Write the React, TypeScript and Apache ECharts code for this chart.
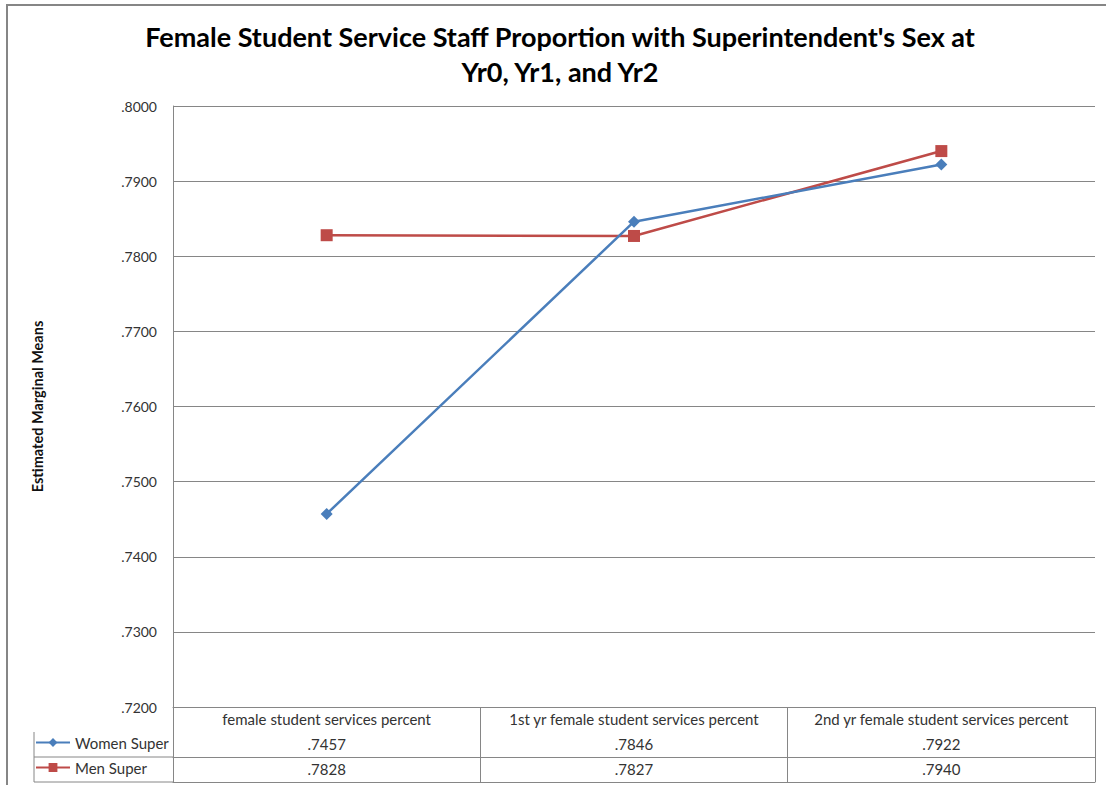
import React, { useEffect, useRef } from "react";
import * as echarts from "echarts";

const categories = [
  "female student services percent",
  "1st yr female student services percent",
  "2nd yr female student services percent",
];
const seriesNames = ["Women Super", "Men Super"];
const womenValues = [0.7457, 0.7846, 0.7922];
const menValues = [0.7828, 0.7827, 0.794];
const yMin = 0.72;
const yMax = 0.8;
const yInterval = 0.01;

const titleText =
  "Female Student Service Staff Proportion with Superintendent's Sex at\nYr0, Yr1, and Yr2";
const yAxisTitle = "Estimated Marginal Means";

const fmt = (v: number) => v.toFixed(4).replace(/^0/, "");

const FONT = "Lato, 'Open Sans', sans-serif";
const GRID = "#868686";
const BLUE = "#4A7EBB";
const RED = "#BE4B48";

export default function App() {
  const ref = useRef<HTMLDivElement>(null);
  useEffect(() => {
    if (!ref.current) return;
    const chart = echarts.init(ref.current, null, { renderer: "svg" });
    const tableAxis = (data: string[], offset: number, showLine: boolean, showLabel: boolean) => ({
      type: "category",
      gridIndex: 0,
      position: "bottom",
      offset,
      data,
      boundaryGap: true,
      axisLine: { show: showLine, lineStyle: { color: GRID, width: 1 } },
      axisTick: { show: false },
      axisLabel: {
        show: showLabel,
        interval: 0,
        margin: 4,
        fontFamily: FONT,
        fontSize: 15,
        color: "#333",
      },
      splitLine: { show: false },
    });
    chart.setOption({
      animation: false,
      backgroundColor: "#fff",
      textStyle: { fontFamily: FONT },
      grid: { left: 173, right: 11, top: 106, bottom: 78, containLabel: false },
      legend: {
        data: seriesNames,
        orient: "vertical",
        left: 35,
        top: 735,
        padding: 0,
        itemWidth: 34,
        itemHeight: 11,
        itemGap: 10,
        textStyle: { fontFamily: FONT, fontSize: 15, color: "#333" },
      },
      xAxis: [
        {
          type: "category",
          data: categories,
          boundaryGap: true,
          axisLine: { show: true, lineStyle: { color: GRID, width: 1 } },
          axisTick: { show: true, interval: 0, length: 75, lineStyle: { color: GRID, width: 1 } },
          axisLabel: {
            interval: 0,
            margin: 4,
            fontFamily: FONT,
            fontSize: 15,
            color: "#333",
          },
          splitLine: { show: false },
        },
        tableAxis(womenValues.map(fmt), 25, false, true),
        tableAxis(menValues.map(fmt), 50, true, true),
        tableAxis(categories.map(() => ""), 75, true, false),
      ],
      yAxis: {
        type: "value",
        min: yMin,
        max: yMax,
        interval: yInterval,
        name: yAxisTitle,
        nameLocation: "middle",
        nameRotate: 90,
        nameGap: 128,
        nameTextStyle: { fontFamily: FONT, fontSize: 14.5, fontWeight: "bold", color: "#111" },
        axisLine: { show: true, lineStyle: { color: GRID, width: 1 } },
        axisTick: { show: false },
        axisLabel: {
          margin: 16,
          fontFamily: FONT,
          fontSize: 14,
          color: "#333",
          formatter: (v: number) => fmt(v),
        },
        splitLine: { show: true, lineStyle: { color: GRID, width: 1 } },
      },
      series: [
        {
          name: seriesNames[0],
          type: "line",
          data: womenValues,
          symbol: "diamond",
          symbolSize: 12,
          lineStyle: { color: BLUE, width: 2.5 },
          itemStyle: { color: BLUE },
          z: 3,
        },
        {
          name: seriesNames[1],
          type: "line",
          data: menValues,
          symbol: "rect",
          symbolSize: 12,
          lineStyle: { color: RED, width: 2.5 },
          itemStyle: { color: RED },
          z: 2,
        },
      ],
      graphic: [
        {
          type: "rect",
          silent: true,
          z: -10,
          shape: { x: 7, y: 5, width: 1200, height: 900 },
          style: { fill: "none", stroke: GRID, lineWidth: 2 },
        },
        {
          type: "text",
          silent: true,
          x: 560,
          y: 19,
          style: {
            text: titleText,
            textAlign: "center",
            textVerticalAlign: "top",
            font: `bold 27px ${FONT}`,
            lineHeight: 35,
            fill: "#000",
          },
        },
        {
          type: "line",
          silent: true,
          shape: { x1: 34, y1: 732, x2: 34, y2: 782 },
          style: { stroke: GRID, lineWidth: 1 },
        },
        {
          type: "line",
          silent: true,
          shape: { x1: 34, y1: 757, x2: 173, y2: 757 },
          style: { stroke: GRID, lineWidth: 1 },
        },
        {
          type: "line",
          silent: true,
          shape: { x1: 34, y1: 782, x2: 173, y2: 782 },
          style: { stroke: GRID, lineWidth: 1 },
        },
      ],
    });
    return () => chart.dispose();
  }, []);
  return (
    <div
      ref={ref}
      style={{ position: "absolute", left: 0, top: 0, width: 1106, height: 785 }}
    />
  );
}
